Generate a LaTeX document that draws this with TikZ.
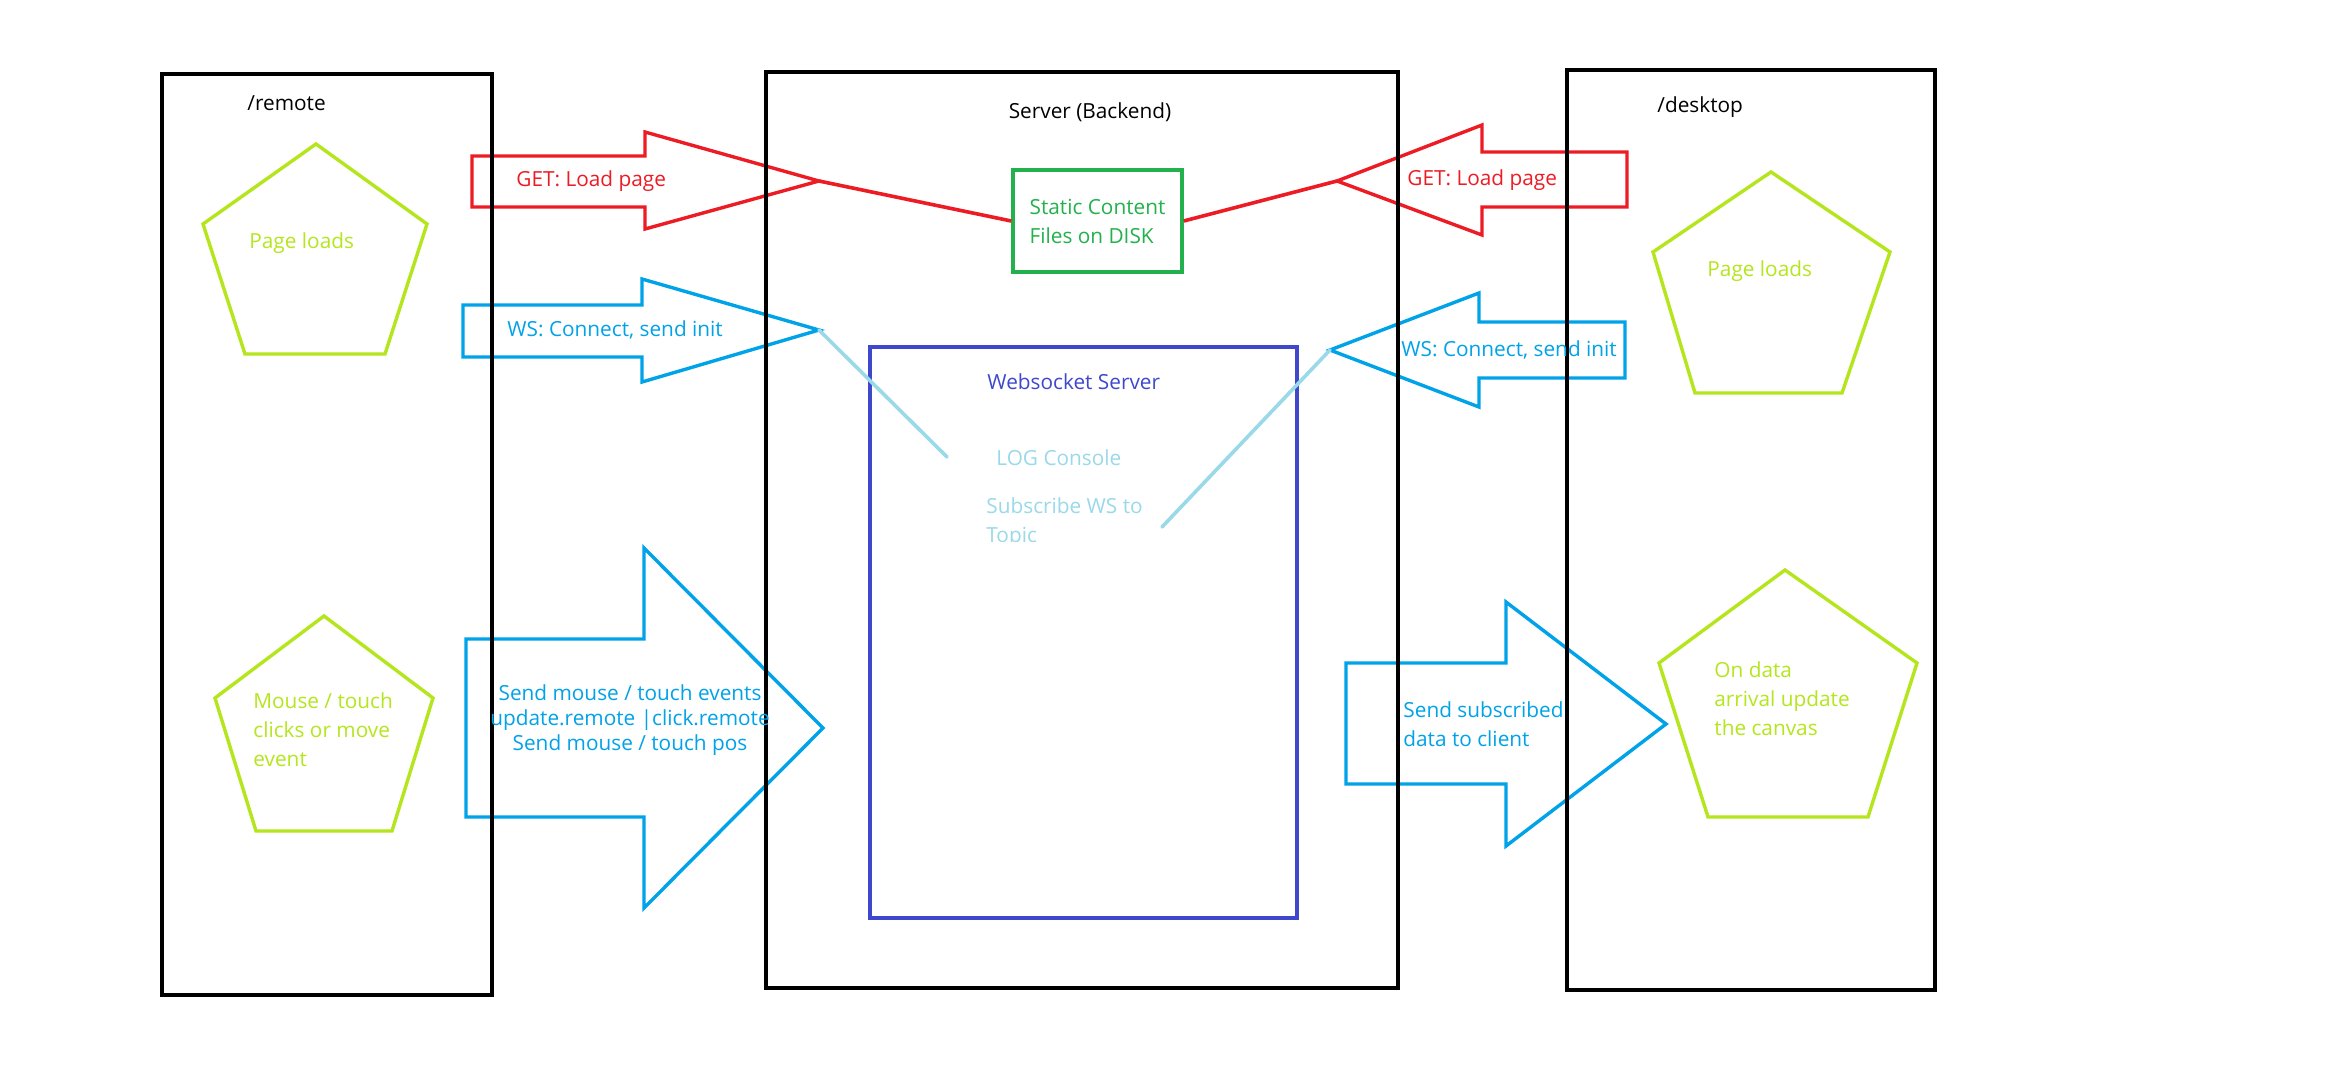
\documentclass[tikz,border=0pt]{standalone}
\usepackage{fontspec}
\setmainfont{Open Sans}
\definecolor{pred}{HTML}{ED1C24}
\definecolor{pgreen}{HTML}{22B14C}
\definecolor{pblue}{HTML}{00A2E8}
\definecolor{pindigo}{HTML}{3F48CC}
\definecolor{plime}{HTML}{B5E61D}
\definecolor{plight}{HTML}{99D9EA}
\begin{document}
\begin{tikzpicture}[x=0.5pt,y=-0.5pt,
  frame/.style={draw=black,line width=2pt},
  shp/.style={line width=1.7pt,line join=miter},
  lbl/.style={inner sep=0pt,font=\fontsize{10.4}{14.5}\selectfont},
  lblarrow/.style={inner sep=0pt,font=\fontsize{10.4}{12.3}\selectfont},
  wire/.style={line width=1.8pt},
]
\useasboundingbox (0,0) rectangle (2352,1072);
\fill[white] (0,0) rectangle (2352,1072);

% pentagons
\draw[shp,draw=plime] (316,144) -- (427,224) -- (385,354) -- (245,354) -- (203,224) -- cycle;
\draw[shp,draw=plime] (324,616) -- (433,698) -- (392,831) -- (256,831) -- (215,698) -- cycle;
\draw[shp,draw=plime] (1771,172) -- (1890,252) -- (1842,393) -- (1695,393) -- (1653,252) -- cycle;
\draw[shp,draw=plime] (1785,570) -- (1917,663) -- (1868,817) -- (1708,817) -- (1659,663) -- cycle;

% block arrows
\draw[shp,draw=pred] (472,156) -- (645,156) -- (645,132) -- (819,181) coordinate (redtipL) -- (645,229) -- (645,207) -- (472,207) -- cycle;
\draw[shp,draw=pred] (1627,152) -- (1482,152) -- (1482,125) -- (1337,181) coordinate (redtipR) -- (1482,235) -- (1482,207) -- (1627,207) -- cycle;
\draw[shp,draw=pblue] (463,305) -- (642,305) -- (642,279) -- (819,330) coordinate (wstipL) -- (642,382) -- (642,357) -- (463,357) -- cycle;
\draw[shp,draw=pblue] (1625,322) -- (1479,322) -- (1479,293) -- (1330,350) coordinate (wstipR) -- (1479,407) -- (1479,378) -- (1625,378) -- cycle;
\draw[shp,draw=pblue] (466,639) -- (644,639) -- (644,548) -- (823,728) -- (644,908) -- (644,817) -- (466,817) -- cycle;
\draw[shp,draw=pblue] (1346,663) -- (1506,663) -- (1506,602) -- (1666,724) -- (1506,846) -- (1506,784) -- (1346,784) -- cycle;

% static content box
\node[draw=pgreen,line width=1.7pt,minimum width=84.5pt,minimum height=51pt,inner sep=0pt,
      text=pgreen,align=left,font=\fontsize{10.4}{14.5}\selectfont] (static) at (1097.5,221)
      {Static Content\\Files on DISK};

% websocket server box
\draw[draw=pindigo,line width=1.8pt] (870,347) rectangle (1297,918);

% connectors
\draw[wire,draw=pred] (redtipL) -- (static.west);
\draw[wire,draw=pred] (static.east) -- (redtipR);
\coordinate (logend) at (947,457);
\coordinate (subend) at (1162,527);
\draw[wire,draw=plight,line cap=round] (wstipL) -- (logend);
\draw[wire,draw=plight,line cap=round] (wstipR) -- (subend);

% frames
\draw[frame] (162,74) rectangle (492,995);
\draw[frame] (766,72) rectangle (1398,988);
\draw[frame] (1567,70) rectangle (1935,990);

% texts
\node[lbl,anchor=west] (tremote) at (247,103) {/remote};
\node[lbl] (tserver) at (1090,112) {Server (Backend)};
\node[lbl,anchor=west] (tdesktop) at (1657,107) {/desktop};
\node[lbl,anchor=west,text=plime] (tpl1) at (249,243) {Page loads};
\node[lbl,anchor=west,text=plime] (tpl2) at (1707,271) {Page loads};
\node[lbl,anchor=west,text=plime,align=left] (tmouse) at (253,730) {Mouse / touch\\clicks or move\\event};
\node[lbl,anchor=west,text=plime,align=left] (tondata) at (1714,699) {On data\\arrival update\\the canvas};
\node[lbl,anchor=west,text=pred] (tget1) at (516,181) {GET: Load page};
\node[lbl,anchor=west,text=pred] (tget2) at (1407,180) {GET: Load page};
\node[lbl,anchor=west,text=pblue] (tws1) at (507,330) {WS: Connect, send init};
\node[lbl,anchor=west,text=pblue] (tws2) at (1401,350) {WS: Connect, send init};
\node[lblarrow,text=pblue,align=center] (tsend) at (630,720) {Send mouse / touch events\\update.remote |click.remote\\Send mouse / touch pos};
\node[lbl,anchor=west,text=pblue,align=left] (tsub) at (1403,724) {Send subscribed\\data to client};
\node[lbl,anchor=west,text=pindigo] (twss) at (987,382) {Websocket Server};
\node[lbl,anchor=west,text=plight] (tlog) at (996,458) {LOG Console};
\begin{scope}
\clip (900,480) rectangle (1250,541);
\node[lbl,anchor=west,text=plight,align=left] (tsubws) at (986,523) {Subscribe WS to\\Topic};
\end{scope}
\end{tikzpicture}
\end{document}
